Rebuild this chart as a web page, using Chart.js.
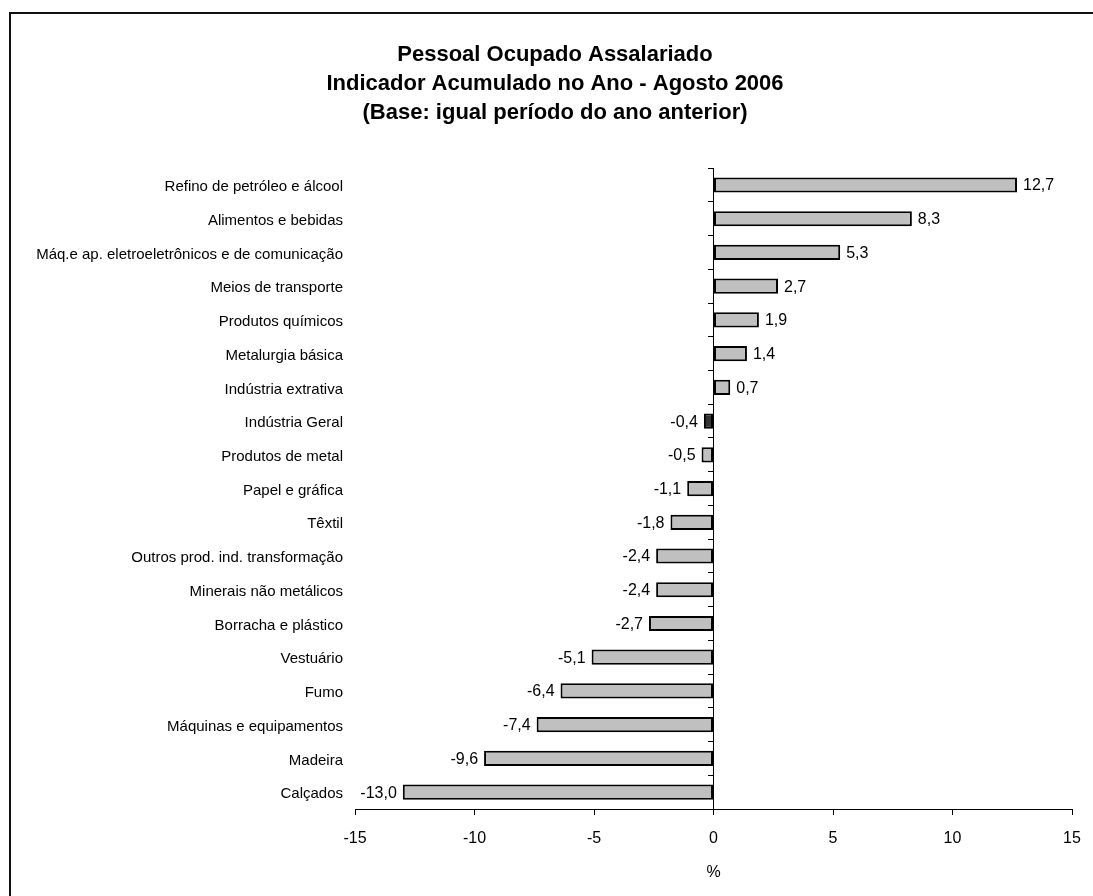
<!DOCTYPE html>
<html>
<head>
<meta charset="utf-8">
<script src="https://cdn.jsdelivr.net/npm/chart.js@4.4.0/dist/chart.umd.min.js"></script>
<style>
  html, body { margin: 0; padding: 0; background: #fff; overflow: hidden; }
  #wrap { position: absolute; left: 0; top: 0; width: 1110px; height: 896px; }
  #frame { position: absolute; left: 9px; top: 12px; width: 1200px; height: 1000px;
           border-left: 2px solid #111; border-top: 2px solid #111; pointer-events: none; }
</style>
</head>
<body>
<div id="wrap"><canvas id="c" width="1110" height="896"></canvas></div>
<div id="frame"></div>
<script>
const titleLines = [
  'Pessoal Ocupado Assalariado',
  'Indicador Acumulado no Ano - Agosto 2006',
  '(Base: igual período do ano anterior)'
];
const categories = [
  'Refino de petróleo e álcool',
  'Alimentos e bebidas',
  'Máq.e ap. eletroeletrônicos e de comunicação',
  'Meios de transporte',
  'Produtos químicos',
  'Metalurgia básica',
  'Indústria extrativa',
  'Indústria Geral',
  'Produtos de metal',
  'Papel e gráfica',
  'Têxtil',
  'Outros prod. ind. transformação',
  'Minerais não metálicos',
  'Borracha e plástico',
  'Vestuário',
  'Fumo',
  'Máquinas e equipamentos',
  'Madeira',
  'Calçados'
];
const values = [12.7, 8.3, 5.3, 2.7, 1.9, 1.4, 0.7, -0.4, -0.5, -1.1, -1.8, -2.4, -2.4, -2.7, -5.1, -6.4, -7.4, -9.6, -13.0];
const highlightCategory = 'Indústria Geral';
const xTicks = [-15, -10, -5, 0, 5, 10, 15];
const xTitle = '%';

const FONT = "'Liberation Sans', Arial, sans-serif";
const fmt = v => v.toFixed(1).replace('.', ',');

const valueLabels = {
  id: 'valueLabels',
  afterDatasetsDraw(chart) {
    const ctx = chart.ctx;
    const meta = chart.getDatasetMeta(0);
    ctx.save();
    ctx.font = '16px ' + FONT;
    ctx.fillStyle = '#000';
    ctx.textBaseline = 'middle';
    meta.data.forEach((bar, i) => {
      const v = values[i];
      if (v >= 0) {
        ctx.textAlign = 'left';
        ctx.fillText(fmt(v), bar.x + 6, bar.y + 1);
      } else {
        ctx.textAlign = 'right';
        ctx.fillText(fmt(v), bar.x - 6, bar.y + 1);
      }
    });
    ctx.restore();
  }
};

new Chart(document.getElementById('c'), {
  type: 'bar',
  data: {
    labels: categories,
    datasets: [{
      data: values,
      backgroundColor: categories.map(c => c === highlightCategory ? '#333333' : '#C0C0C0'),
      borderColor: '#000',
      borderWidth: 2,
      borderSkipped: false,
      categoryPercentage: 0.45,
      barPercentage: 1.0,
      yAxisID: 'y'
    }]
  },
  options: {
    indexAxis: 'y',
    responsive: false,
    animation: false,
    devicePixelRatio: 1,
    layout: { padding: { left: 20, right: 20, top: 0, bottom: 0 } },
    plugins: {
      legend: { display: false },
      tooltip: { enabled: false },
      title: {
        display: true,
        text: titleLines,
        color: '#000',
        font: { family: FONT, size: 22, weight: 'bold', lineHeight: 1.32 },
        padding: { top: 40, bottom: 41 }
      }
    },
    scales: {
      y: {
        type: 'category',
        position: 'left',
        offset: true,
        grid: { display: false, drawTicks: false },
        border: { display: false },
        ticks: { color: '#000', font: { family: FONT, size: 15 }, padding: 12, labelOffset: 2, autoSkip: false },
        afterFit(s) { s.width = 335; }
      },
      y2: {
        type: 'category',
        position: { x: 0 },
        offset: true,
        grid: { display: true, drawOnChartArea: false, drawTicks: true, tickLength: 5, color: '#000', offset: true },
        border: { display: true, color: '#000', width: 1 },
        ticks: { display: false }
      },
      yRight: {
        type: 'category',
        position: 'right',
        display: true,
        grid: { display: false, drawTicks: false },
        border: { display: false },
        ticks: { display: false },
        afterFit(s) { s.width = 18; }
      },
      x: {
        type: 'linear',
        position: 'bottom',
        min: -15, max: 15,
        afterBuildTicks(s) { s.ticks = xTicks.map(v => ({ value: v })); },
        grid: { display: true, drawOnChartArea: false, drawTicks: true, tickLength: 6, color: '#000' },
        border: { display: true, color: '#000', width: 1 },
        ticks: { color: '#000', font: { family: FONT, size: 16 }, padding: 14, callback: v => String(v) },
        title: { display: true, text: xTitle, color: '#000', font: { family: FONT, size: 16 }, padding: { top: 10, bottom: 14 } },
        afterFit(s) { s.height = 87; }
      }
    }
  },
  plugins: [valueLabels]
});
</script>
</body>
</html>
